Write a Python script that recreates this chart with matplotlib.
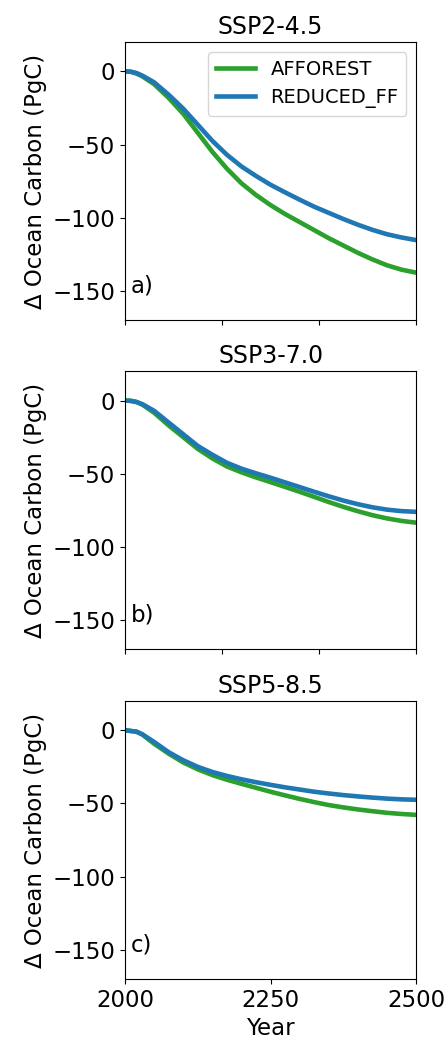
import numpy as np
from matplotlib import pyplot as plt

years = [2000, 2010, 2020, 2030, 2050, 2075, 2100, 2125, 2150, 2175, 2200, 2225,
         2250, 2275, 2300, 2325, 2350, 2375, 2400, 2425, 2450, 2475, 2500]

scenarios = ["SSP2-4.5", "SSP3-7.0", "SSP5-8.5"]
panel_tags = ["a)", "b)", "c)"]

# ocean carbon change (PgC)
afforest_245 = [0, -0.3, -1.6, -3.5, -8.8, -18.2, -29, -42, -55, -66.5, -76.5, -84.5,
                -91.4, -97.5, -103, -108.5, -114, -119, -124, -128.5, -132.5, -135.5, -137.5]
reduced_245 = [0, -0.3, -1.2, -3, -7.5, -16, -25.5, -36.5, -47.5, -57, -65, -71.5,
               -77.5, -82.7, -87.7, -92.5, -96.7, -100.9, -104.8, -108.3, -111.3, -113.5, -115.3]

afforest_370 = [0, -0.2, -1, -2.8, -8.3, -17, -25, -33, -39.5, -45, -49, -52.5,
                -55.7, -59, -62.3, -65.8, -69.3, -72.6, -75.6, -78.3, -80.5, -82.2, -83.4]
reduced_370 = [0, -0.2, -1, -2.5, -7, -15, -23, -31, -37, -42.5, -46.5, -49.7,
               -52.7, -55.9, -59.1, -62.3, -65.4, -68.3, -70.8, -72.9, -74.5, -75.5, -76]

afforest_585 = [0, -0.5, -1, -3, -9.2, -16, -22, -26.7, -30.6, -33.8, -36.6, -39.3,
                -42, -44.5, -46.9, -49.1, -51.1, -52.7, -54.1, -55.3, -56.4, -57.2, -57.8]
reduced_585 = [0, -0.5, -1, -2.8, -8, -15, -20.5, -25, -28.5, -31.2, -33.5, -35.5,
               -37.3, -39, -40.5, -42, -43.2, -44.3, -45.2, -46, -46.7, -47.2, -47.5]

afforest = [afforest_245, afforest_370, afforest_585]
reduced = [reduced_245, reduced_370, reduced_585]

plt.rcParams['font.size'] = 16.5

fig = plt.figure(figsize=(4.48, 10.4), dpi=100)
tops = [0.9596, 0.643, 0.326]
height = 0.2675

for i in range(3):
    ax = fig.add_axes([0.279, tops[i] - height, 0.65, height])
    ax.plot(years, afforest[i], color="tab:green", lw=3.3, label="AFFOREST")
    ax.plot(years, reduced[i], color="tab:blue", lw=3.3, label="REDUCED_FF")
    ax.set_xlim(2000, 2500)
    ax.set_ylim(-170, 20)
    ax.set_yticks([0, -50, -100, -150])
    ax.set_title(scenarios[i], fontsize=17)
    ax.set_ylabel("Δ Ocean Carbon (PgC)")
    ax.text(0.02, 0.1, panel_tags[i], transform=ax.transAxes, fontsize=16.5)
    if i < 2:
        # top panels show unlabelled ticks at thirds
        ax.set_xticks([2000, 2000 + 500 / 3, 2000 + 1000 / 3, 2500])
        ax.set_xticklabels([])
    else:
        ax.set_xticks([2000, 2250, 2500])
        ax.set_xlabel("Year")
    if i == 0:
        ax.legend(loc="upper right", fontsize=14)

fig.savefig("out.png", dpi=100)
